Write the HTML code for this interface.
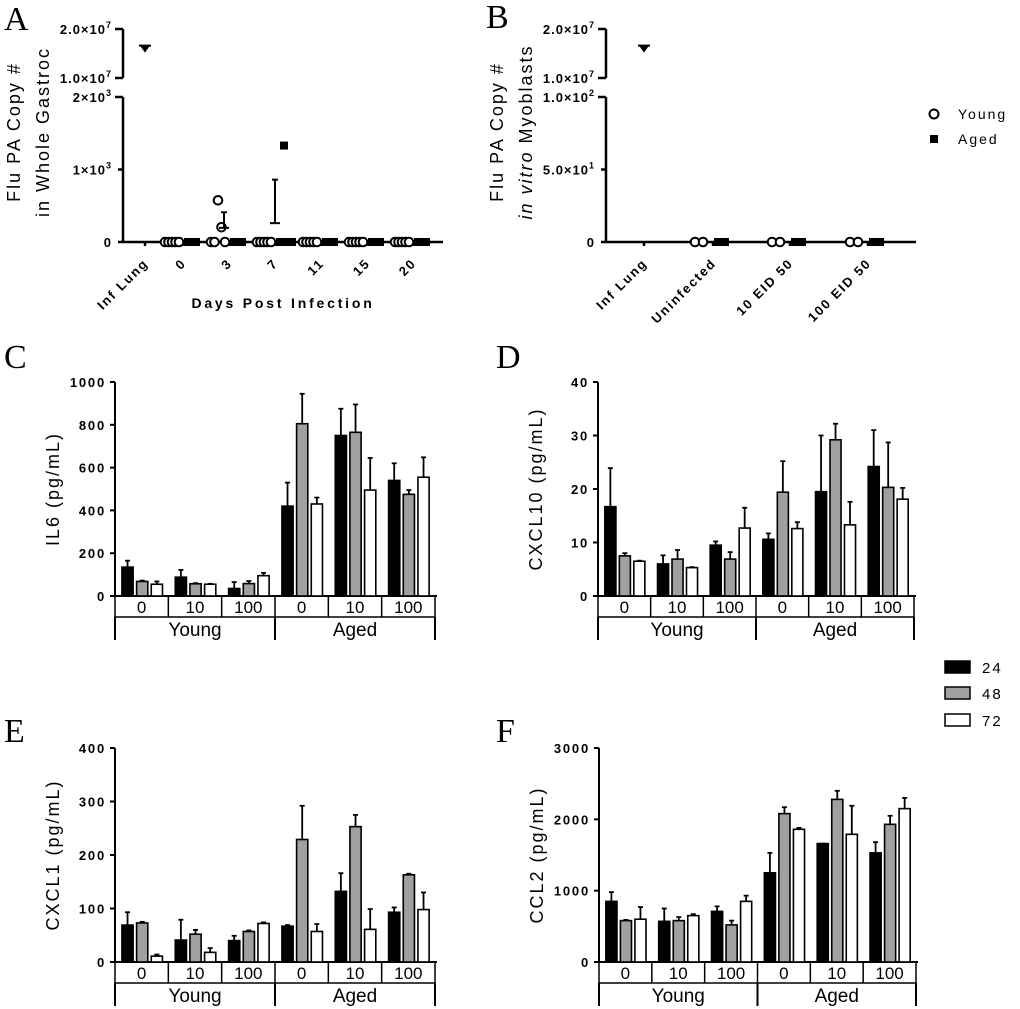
<!DOCTYPE html>
<html><head><meta charset="utf-8">
<style>
html,body{margin:0;padding:0;background:#fff;}
svg{display:block;font-family:"Liberation Sans",sans-serif;}
.tick{font-size:13px;font-weight:bold;letter-spacing:1.8px;}
.ttl{font-size:18px;letter-spacing:2px;}
.cat{font-size:17px;}
.letter{font-family:"Liberation Serif",serif;font-size:34px;}
</style></head>
<body>
<svg id="fig" width="1020" height="1009" viewBox="0 0 1020 1009" xmlns="http://www.w3.org/2000/svg">
<text class="letter" x="4" y="30">A</text>
<text class="letter" x="486" y="28">B</text>
<text class="letter" x="4" y="368">C</text>
<text class="letter" x="496" y="368">D</text>
<text class="letter" x="4" y="742">E</text>
<text class="letter" x="496" y="742">F</text>
<g id="legend2">
<rect x="945" y="661" width="25" height="12" fill="#000" stroke="#000" stroke-width="1.5"/>
<text x="982" y="673" font-size="15" letter-spacing="2">24</text>
<rect x="945" y="687" width="25" height="12" fill="#a0a0a0" stroke="#000" stroke-width="1.5"/>
<text x="982" y="699" font-size="15" letter-spacing="2">48</text>
<rect x="945" y="714" width="25" height="12" fill="#fff" stroke="#000" stroke-width="1.5"/>
<text x="982" y="726" font-size="15" letter-spacing="2">72</text>
</g>
<g>
<circle cx="934" cy="114" r="4.5" fill="#fff" stroke="#000" stroke-width="2"/>
<text x="958" y="119" font-size="14" letter-spacing="2">Young</text>
<rect x="930" y="135" width="8" height="8" fill="#000"/>
<text x="958" y="144" font-size="14" letter-spacing="2">Aged</text>
</g>
</svg>
<script>
// ---- Panel A data ----
const aCats = ["Inf Lung","0","3","7","11","15","20"];
const aYoung = [[],[0,0,0,0,0],[0,0,575,205,0],[0,0,0,0,0],[0,0,0,0,0],[0,0,0,0,0],[0,0,0,0,0]];
const aAged = [[],[0,0,0],[0,0,0],[0,1330,0,0],[0,0,0],[0,0,0],[0,0,0]];
const aYoungMean = [null,0,195,0,0,0,0];
const aYoungErr = [null,0,410,0,0,0,0];
const aAgedMean = [null,0,0,260,0,0,0];
const aAgedErr = [null,0,0,860,0,0,0];
const aLung = [16000000];
// ---- Panel B data ----
const bCats = ["Inf Lung","Uninfected","10 EID 50","100 EID 50"];
const bYoung = [[],[0,0],[0,0],[0,0]];
const bAged = [[],[0,0],[0,0],[0,0]];
const bLung = [16000000];
// ---- Bar panels data ----
const barGroups = ["0","10","100","0","10","100"];
const ageGroups = ["Young","Aged"];
const il6_24 = [135,88,35,420,750,540];
const il6_48 = [68,57,58,805,765,475];
const il6_72 = [55,55,95,430,495,555];
const il6_24e = [165,122,65,530,875,620];
const il6_48e = [72,60,70,945,895,495];
const il6_72e = [68,57,108,460,645,648];
const il6Ticks = [0,200,400,600,800,1000];
const cx10_24 = [16.7,6,9.5,10.6,19.5,24.2];
const cx10_48 = [7.5,6.9,6.9,19.4,29.2,20.3];
const cx10_72 = [6.5,5.3,12.7,12.6,13.3,18.1];
const cx10_24e = [23.9,7.6,10.2,11.7,30,31];
const cx10_48e = [8,8.6,8.2,25.2,32.2,28.7];
const cx10_72e = [6.6,5.4,16.5,13.8,17.6,20.2];
const cx10Ticks = [0,10,20,30,40];
const cx1_24 = [69,41,40,67,132,93];
const cx1_48 = [73,52,57,229,253,163];
const cx1_72 = [11,18,72,57,61,98];
const cx1_24e = [93,79,49,69,166,102];
const cx1_48e = [75,60,59,292,275,165];
const cx1_72e = [14,26,74,71,99,130];
const cx1Ticks = [0,100,200,300,400];
const ccl2_24 = [850,570,710,1250,1660,1530];
const ccl2_48 = [580,580,520,2080,2280,1930];
const ccl2_72 = [600,650,850,1860,1790,2150];
const ccl2_24e = [980,750,780,1530,1660,1680];
const ccl2_48e = [590,630,580,2170,2400,2050];
const ccl2_72e = [770,670,930,1880,2190,2300];
const ccl2Ticks = [0,1000,2000,3000];

const NS="http://www.w3.org/2000/svg";
const svg=document.getElementById('fig');
function mk(tag,attrs,parent){const e=document.createElementNS(NS,tag);for(const k in attrs)e.setAttribute(k,attrs[k]);(parent||svg).appendChild(e);return e;}
function line(x1,y1,x2,y2,w,p){return mk('line',{x1,y1,x2,y2,stroke:'#000','stroke-width':w||2},p);}

function barPanel(name,x0,x1,yTop,y0,maxV,ticks,ser,errs,title){
  const g=mk('g',{});
  
  
  const ys=v=>y0-(v/maxV)*(y0-yTop);
  line(x0,yTop,x0,y0+1,2,g);
  line(x0,y0,x1+2,y0,2,g);
  ticks.forEach(t=>{
    line(x0-5,ys(t),x0,ys(t),2,g);
    const tx=mk('text',{x:x0-9,y:ys(t)+5,'text-anchor':'end',class:'tick'},g);
    tx.textContent=t;
    
    
  });
  const yt=mk('text',{x:0,y:0,class:'ttl','text-anchor':'middle',transform:`translate(${x0-56},${(yTop+y0)/2}) rotate(-90)`},g);
  yt.textContent=title;
  
  
  const W=(x1-x0)/barGroups.length;
  const fills=['#000','#a0a0a0','#fff'];
  const bw=W*0.21, step=W*0.275, off=W*0.13;
  barGroups.forEach((lab,gi)=>{
    ser.forEach((s,si)=>{
      const bx=x0+gi*W+off+si*step;
      const cxm=bx+bw/2;
      const e=errs[si][gi];
      line(cxm,ys(s[gi]),cxm,ys(e),1.8,g);
      line(cxm-2.5,ys(e),cxm+2.5,ys(e),1.8,g);
      const r=mk('rect',{x:bx,y:ys(s[gi]),width:bw,height:y0-ys(s[gi]),fill:fills[si],stroke:'#000','stroke-width':1.6},g);
      
      
    });
    const gx=x0+gi*W;
    line(gx,y0,gx,y0+21,1.5,g);
    const t=mk('text',{x:gx+W/2,y:y0+17,'text-anchor':'middle',class:'cat'},g);
    t.textContent=lab;
    
    
  });
  line(x1,y0,x1,y0+21,1.5,g);
  line(x0,y0+21,x1,y0+21,1.5,g);
  const mid=(x0+x1)/2;
  [x0,mid,x1].forEach(x=>line(x,y0+21,x,y0+44,2,g));
  ageGroups.forEach((a,i)=>{
    const t=mk('text',{x:x0+(x1-x0)*(0.25+0.5*i),y:y0+40,'text-anchor':'middle'},g);
    t.setAttribute('style','font-size:19px');
    t.textContent=a;
    
    
  });
}
barPanel('il6',115,435,382,596,1000,il6Ticks,[il6_24,il6_48,il6_72],[il6_24e,il6_48e,il6_72e],'IL6 (pg/mL)');
barPanel('cxcl10',598,914,382,596,40,cx10Ticks,[cx10_24,cx10_48,cx10_72],[cx10_24e,cx10_48e,cx10_72e],'CXCL10 (pg/mL)');
barPanel('cxcl1',115,435,748,962,400,cx1Ticks,[cx1_24,cx1_48,cx1_72],[cx1_24e,cx1_48e,cx1_72e],'CXCL1 (pg/mL)');
barPanel('ccl2',599,916,748,962,3000,ccl2Ticks,[ccl2_24,ccl2_48,ccl2_72],[ccl2_24e,ccl2_48e,ccl2_72e],'CCL2 (pg/mL)');

function splitPanel(name,x0,x1,lowMax,lowTicks,lowLabels,cats,catX,young,aged,lung,titles,italic2){
  const g=mk('g',{});
  
  
  const hiT=29,hiB=78,loT=97,loB=242;
  const yh=v=>hiB-(v-1e7)/1e7*(hiB-hiT);
  const yl=v=>loB-v/lowMax*(loB-loT);
  line(x0,hiT,x0,hiB,2.5,g); line(x0,loT,x0,loB+1,2.5,g);
  const tstyle='font-size:13px;letter-spacing:1px';
  [[hiT,'2.0×10','7'],[hiB,'1.0×10','7']].forEach(([y,s,e])=>{
    line(x0-8,y,x0,y,2.5,g);
    const t=mk('text',{x:x0-11,y:y+5,'text-anchor':'end',class:'tick'},g);
    t.setAttribute('style',tstyle);
    t.textContent=s;
    const sp=mk('tspan',{dy:-6,'font-size':9},t); sp.textContent=e;
    
    
  });
  lowTicks.forEach((v,i)=>{
    const y=yl(v);
    line(x0-(i==lowTicks.length-1?8:5),y,x0,y,2.5,g);
    const t=mk('text',{x:x0-11,y:y+5,'text-anchor':'end',class:'tick'},g);
    t.setAttribute('style',tstyle);
    t.textContent=lowLabels[i][0];
    if(lowLabels[i][1]){const sp=mk('tspan',{dy:-6,'font-size':9},t); sp.textContent=lowLabels[i][1];}
    
    
  });
  line(x0,loB,x1,loB,2.5,g);
  cats.forEach((c,i)=>{
    const cx=catX[i];
    line(cx,loB,cx,loB+4,2.5,g);
    const t=mk('text',{x:0,y:0,'text-anchor':'end','font-size':13,'font-weight':'bold','letter-spacing':1.8,transform:`translate(${cx+4},${loB+22}) rotate(-45)`},g);
    t.textContent=c;
    
    
    young[i].forEach((v,j)=>{
      const c2=mk('circle',{cx:cx-18+j*(young[i].length>2?3.5:8),cy:yl(v),r:4.3,fill:'#fff',stroke:'#000','stroke-width':2},g);
      
      
    });
    aged[i].forEach((v,j)=>{
      const r=mk('rect',{x:cx+1+j*(aged[i].length>2?4:7),y:yl(v)-4,width:8,height:8,fill:'#000'},g);
      
      
    });
  });
  const lx=catX[0];
  const lt=mk('path',{d:`M${lx-5},${yh(lung[0])-3} L${lx+5},${yh(lung[0])-3} L${lx},${yh(lung[0])+4} Z`,fill:'#000'},g);
  
  
  line(lx-6,yh(lung[0])-3,lx+6,yh(lung[0])-3,2,g);
  const t1=mk('text',{x:0,y:0,'text-anchor':'middle',class:'ttl',transform:`translate(${x0-103},132) rotate(-90)`},g);
  t1.textContent=titles[0];
  
  
  const t2=mk('text',{x:0,y:0,'text-anchor':'middle',class:'ttl',transform:`translate(${x0-74},132) rotate(-90)`},g);
  if(italic2){const a=mk('tspan',{'font-style':'italic'},t2);a.textContent='in vitro';const b=mk('tspan',{},t2);b.textContent=' Myoblasts';}
  else t2.textContent=titles[1];
  
  
  return {g,yl};
}
const A=splitPanel('panel-a',123,443,2000,[0,1000,2000],[['0',''],['1×10','3'],['2×10','3']],aCats,[145,183,229,275,321,367,413],aYoung,aAged,aLung,['Flu  PA Copy #','in Whole Gastroc'],false);
// error bars A
[aYoungMean,aAgedMean].forEach((m,k)=>{
  const e=k==0?aYoungErr:aAgedErr;
  const cx=[145,183,229,275,321,367,413];
  m.forEach((v,i)=>{
    if(v===null||v===0)return;
    const x=k==0?cx[i]-5:cx[i];
    line(x,A.yl(v),x,A.yl(e[i]),2,A.g);
    line(x-3,A.yl(e[i]),x+3,A.yl(e[i]),2,A.g);
    line(x-5,A.yl(v),x+5,A.yl(v),2,A.g);
  });
});
const ax=mk('text',{x:283,y:308,'text-anchor':'middle','font-size':14,'font-weight':'bold','letter-spacing':2.8});
ax.textContent='Days Post Infection';


splitPanel('panel-b',606,916,100,[0,50,100],[['0',''],['5.0×10','1'],['1.0×10','2']],bCats,[644,713,790,868],bYoung,bAged,bLung,['Flu PA Copy #','in vitro Myoblasts'],true);
</script>
</body></html>
